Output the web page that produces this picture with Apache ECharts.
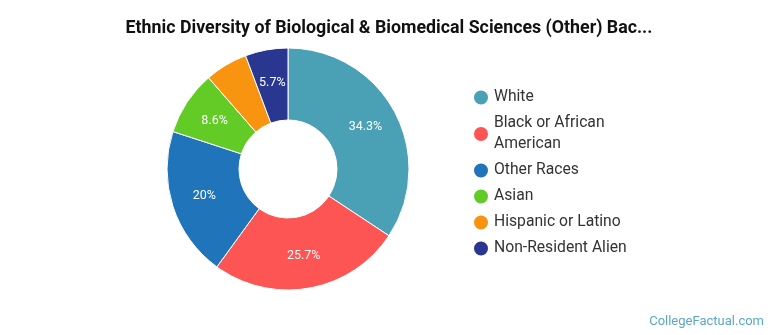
<!DOCTYPE html>
<html>
<head>
<meta charset="utf-8">
<script src="https://cdn.jsdelivr.net/npm/echarts@6/dist/echarts.min.js"></script>
<style>
  html, body { margin: 0; padding: 0; background: #fff; }
  #chart { width: 770px; height: 335px; }
</style>
</head>
<body>
<div id="chart"></div>
<script>
// Ethnic breakdown of bachelor's graduates
const categories = ['White', 'Black or African American', 'Other Races', 'Asian', 'Hispanic or Latino', 'Non-Resident Alien'];
const shares = [34.3, 25.7, 20, 8.6, 5.7, 5.7];
const showLabel = [true, true, true, true, false, true];
const colors = ['#4aa0b5', '#fd5454', '#1f74ba', '#62cb26', '#f8940f', '#2a3790'];

const legendNames = {
  'Black or African American': 'Black or African\nAmerican'
};

const chart = echarts.init(document.getElementById('chart'));
chart.setOption({
  animation: false,
  title: {
    text: 'Ethnic Diversity of Biological & Biomedical Sciences (Other) Bac...',
    left: 384,
    textAlign: 'center',
    top: 15,
    textStyle: { fontFamily: 'Roboto', fontWeight: 'bold', fontSize: 17.8, color: '#111' }
  },
  legend: {
    orient: 'vertical',
    left: 467,
    top: 82,
    icon: 'circle',
    itemWidth: 16,
    itemHeight: 16,
    itemGap: 5,
    data: categories,
    formatter: name => legendNames[name] || name,
    textStyle: { fontFamily: 'Roboto', fontSize: 15.7, color: '#333', lineHeight: 21 }
  },
  graphic: [{
    type: 'text',
    right: 6,
    bottom: 7,
    style: { text: 'CollegeFactual.com', fontFamily: 'Roboto', fontSize: 13, fill: '#5aa9c2' }
  }],
  series: [{
    type: 'pie',
    center: [288, 169],
    radius: [49, 121],
    startAngle: 90,
    clockwise: true,
    itemStyle: { borderColor: '#fff', borderWidth: 1 },
    label: {
      position: 'inside',
      color: '#fff',
      fontFamily: 'Roboto',
      fontSize: 12.5,
      formatter: p => p.value + '%'
    },
    labelLine: { show: false },
    emphasis: { disabled: true },
    data: categories.map((name, i) => ({
      name: name,
      value: shares[i],
      itemStyle: { color: colors[i] },
      label: { show: showLabel[i] }
    }))
  }]
});
</script>
</body>
</html>
